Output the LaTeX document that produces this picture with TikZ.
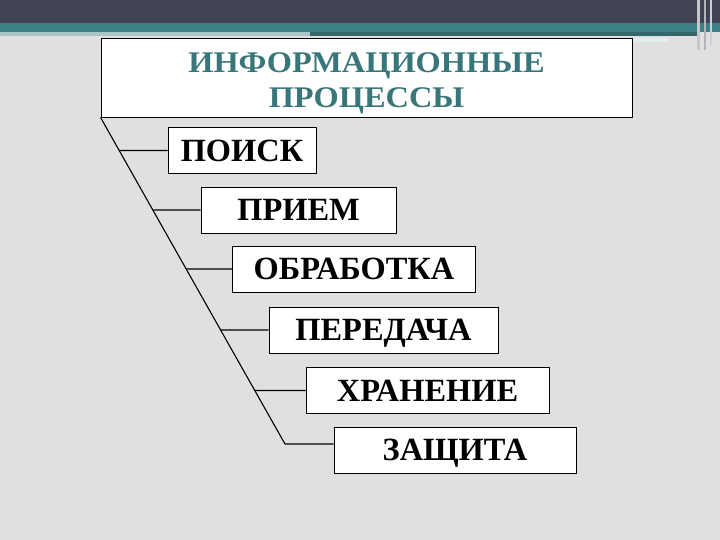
\documentclass[tikz,border=0pt]{standalone}
\usepackage{fontspec}
\setmainfont{Liberation Serif}
\newfontfamily\headfont[FakeStretch=1.08]{Liberation Serif}
\definecolor{slidebg}{RGB}{224,224,224}
\definecolor{topbar}{RGB}{64,67,82}
\definecolor{stripe}{RGB}{62,128,134}
\definecolor{headtext}{RGB}{56,118,122}
\begin{document}
\begin{tikzpicture}[x=1pt,y=-1pt]
\tikzstyle{head}=[draw,fill=white,line width=0.9pt,minimum width=531pt,minimum height=79pt,inner sep=0pt,text height=65pt,text depth=4.4pt,align=center,text=headtext,font=\headfont\fontsize{30}{35}\selectfont\bfseries]
\tikzstyle{proc}=[draw,fill=white,line width=0.9pt,minimum height=46pt,inner sep=0pt,text height=21.5pt,text depth=0pt,font=\fontsize{32.4}{32}\selectfont\bfseries]
\tikzstyle{link}=[line width=1.1pt]
% slide background
\fill[slidebg] (0,0) rectangle (720,540);
\useasboundingbox (0,0) rectangle (720,540);
\fill[topbar] (0,0) rectangle (720,23);
\fill[stripe] (0,23) rectangle (720,32);
\fill[stripe!45!white] (0,32) rectangle (310,36);
\fill[stripe!80!black] (310,32) rectangle (700,36);
\fill[white!85!stripe] (632,38) rectangle (668,42);
\fill[white!70!topbar] (697,0) rectangle (700,50);
\fill[white!60!topbar] (704,0) rectangle (706,50);
\fill[white!75!topbar] (710,0) rectangle (712,46);
% boxes
\node[head] (ip) at (366.5,77.5) {ИНФОРМАЦИОННЫЕ\\ПРОЦЕССЫ};
\node[proc,minimum width=148pt] (poisk) at (242,150.5) {ПОИСК};
\node[proc,minimum width=195pt] (priem) at (298.5,210) {ПРИЕМ};
\node[proc,minimum width=243pt] (obrab) at (354,269) {ОБРАБОТКА};
\node[proc,minimum width=229pt] (pered) at (383.5,330) {ПЕРЕДАЧА};
\node[proc,minimum width=243pt] (hran) at (427.5,390.5) {ХРАНЕНИЕ};
\node[proc,minimum width=242pt] (zash) at (455,450) {ЗАЩИТА};
% connectors
\coordinate (spine) at (285,444);
\draw[link] (ip.south west) -- (spine) -- (spine -| zash.west);
\foreach \b in {poisk,priem,obrab,pered,hran}
  \draw[link] (intersection of ip.south west--spine and \b.west--\b.east) -- (\b.west);
\end{tikzpicture}
\end{document}
